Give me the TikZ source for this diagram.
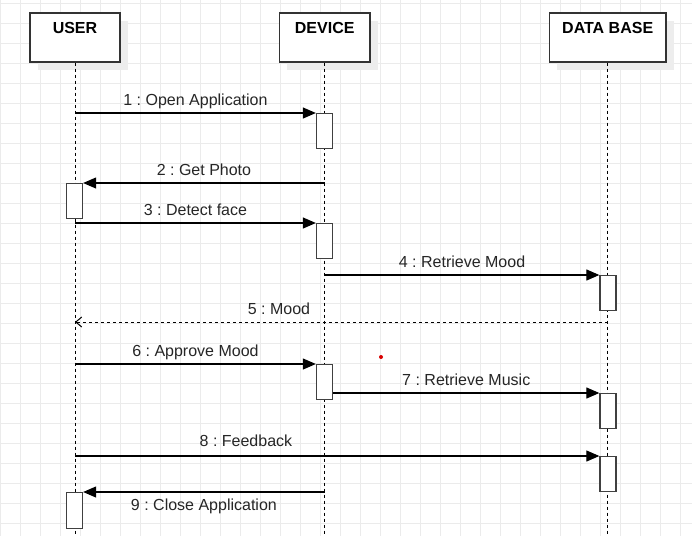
\documentclass[tikz,border=0pt]{standalone}
\usepackage{fontspec}
\setmainfont{Liberation Sans}
\frenchspacing
\usetikzlibrary{arrows.meta, shadows}

\tikzset{
  gridline/.style={draw=black!8, line width=0.8pt},
  head/.style={draw=black!80, line width=1.3pt, fill=white, minimum height=49pt, inner sep=0pt,
    drop shadow={shadow xshift=8pt, shadow yshift=-8pt, fill=black!7, opacity=1}},
  headtxt/.style={anchor=base, font=\fontsize{16}{19}\selectfont\bfseries, inner sep=0pt},
  life/.style={draw=black, line width=1pt, dash pattern=on 3pt off 3pt},
  bar/.style={draw=black!75, line width=1.3pt, fill=white, anchor=north, minimum width=16pt, minimum height=35pt, inner sep=0pt},
  msg/.style={draw=black, line width=1.1pt, -{Triangle[length=13pt, width=11pt]}},
  ret/.style={draw=black, line width=1pt, dash pattern=on 3pt off 3pt, -{Straight Barb[length=6pt, width=10pt]}},
  lbl/.style={anchor=base, yshift=8pt, font=\fontsize{16}{19}\selectfont, text=black!85, inner sep=0pt},
}

\begin{document}
\begin{tikzpicture}[x=1pt, y=-1pt]
\useasboundingbox[fill=white] (0,0) rectangle (692,536);

% grid
\foreach \x in {0,20,...,680} \draw[gridline] (\x+0.5,0) -- (\x+0.5,536);
\foreach \y in {0,20,...,520} \draw[gridline] (0,\y+3) -- (692,\y+3);

% actors
\node[head, minimum width=90pt] (user) at (75,37.5) {};
\node[head, minimum width=90.7pt] (device) at (324.7,37.5) {};
\node[head, minimum width=116.7pt] (db) at (607.7,37.5) {};
\node[headtxt] (usertxt) at ([yshift=-21pt]user.north) {USER};
\node[headtxt] (devicetxt) at ([yshift=-21pt]device.north) {DEVICE};
\node[headtxt] (dbtxt) at ([yshift=-21pt]db.north) {DATA BASE};

% lifelines
\coordinate (bottom) at (0,536);
\draw[life] (user.south) -- (bottom -| user);
\draw[life] (device.south) -- (bottom -| device);
\draw[life] (db.south) -- (bottom -| db);

% activations
\node[bar] (u1) at (74.5,183) {};
\node[bar, minimum height=36pt] (u2) at (74.5,492) {};
\node[bar] (d1) at (324.5,113) {};
\node[bar] (d2) at (324.5,223) {};
\node[bar] (d3) at (324.5,364) {};
\node[bar] (b1) at (608,275) {};
\node[bar] (b2) at (608,393) {};
\node[bar] (b3) at (608,456) {};

% messages
\draw[msg] (d1.north west -| user) -- node[lbl] (t1) {1 : Open Application} (d1.north west);
\draw[msg] (u1.north east -| device) -- node[lbl] (t2) {2 : Get Photo} (u1.north east);
\draw[msg] (d2.north west -| user) -- node[lbl] (t3) {3 : Detect face} (d2.north west);
\draw[msg] (b1.north west -| device) -- node[lbl] (t4) {4 : Retrieve Mood} (b1.north west);
\coordinate (mood) at (0,322);
\draw[ret] (mood -| db) -- node[lbl, pos=0.617] (t5) {5 : Mood} (mood -| user);
\draw[msg] (d3.north west -| user) -- node[lbl] (t6) {6 : Approve Mood} (d3.north west);
\draw[msg] (d3.east |- b2.north) -- node[lbl] (t7) {7 : Retrieve Music} (b2.north west);
\draw[msg] (b3.north west -| user) -- node[lbl, pos=0.326, yshift=2pt] (t8) {8 : Feedback} (b3.north west);
\draw[msg] (u2.north east -| device) -- node[lbl, yshift=-26pt] (t9) {9 : Close Application} (u2.north east);

\fill[red!85!black] (381,357) coordinate (dot) circle (2);
\end{tikzpicture}
\end{document}
